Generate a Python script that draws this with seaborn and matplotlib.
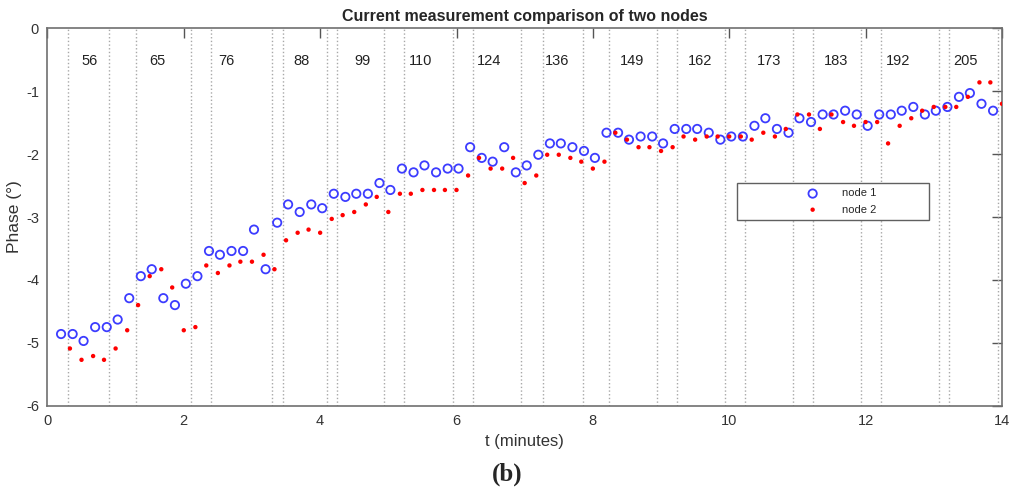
import matplotlib
matplotlib.use("Agg")
import matplotlib.pyplot as plt
import pandas as pd
import seaborn as sns
from matplotlib.patches import Rectangle

# sample times (minutes) and phase (degrees)
t_node1 = [0.20, 0.37, 0.53, 0.70, 0.87, 1.03, 1.20, 1.37, 1.53, 1.70, 1.87,
           2.03, 2.20, 2.37, 2.53, 2.70, 2.87, 3.03, 3.20, 3.37, 3.53, 3.70, 3.87,
           4.03, 4.20, 4.37, 4.53, 4.70, 4.87, 5.03, 5.20, 5.37, 5.53, 5.70, 5.87,
           6.03, 6.20, 6.37, 6.53, 6.70, 6.87, 7.03, 7.20, 7.37, 7.53, 7.70, 7.87,
           8.03, 8.20, 8.37, 8.53, 8.70, 8.87, 9.03, 9.20, 9.37, 9.53, 9.70, 9.87,
           10.03, 10.20, 10.37, 10.53, 10.70, 10.87, 11.03, 11.20, 11.37, 11.53,
           11.70, 11.87, 12.03, 12.20, 12.37, 12.53, 12.70, 12.87, 13.03, 13.20,
           13.37, 13.53, 13.70, 13.87]
phase_node1 = [-4.86, -4.86, -4.97, -4.75, -4.75, -4.63, -4.29, -3.94, -3.83, -4.29,
               -4.40, -4.06, -3.94, -3.54, -3.60, -3.54, -3.54, -3.20, -3.83, -3.09,
               -2.80, -2.92, -2.80, -2.86, -2.63, -2.68, -2.63, -2.63, -2.46, -2.57,
               -2.23, -2.29, -2.18, -2.29, -2.23, -2.23, -1.89, -2.06, -2.12, -1.89,
               -2.29, -2.18, -2.01, -1.83, -1.83, -1.89, -1.95, -2.06, -1.66, -1.66,
               -1.77, -1.72, -1.72, -1.83, -1.60, -1.60, -1.60, -1.66, -1.77, -1.72,
               -1.72, -1.55, -1.43, -1.60, -1.66, -1.43, -1.49, -1.37, -1.37, -1.31,
               -1.37, -1.55, -1.37, -1.37, -1.31, -1.25, -1.37, -1.31, -1.25, -1.09,
               -1.03, -1.20, -1.31]

t_node2 = [0.33, 0.50, 0.67, 0.83, 1.00, 1.17, 1.33, 1.50, 1.67, 1.83, 2.00,
           2.17, 2.33, 2.50, 2.67, 2.83, 3.00, 3.17, 3.33, 3.50, 3.67, 3.83, 4.00,
           4.17, 4.33, 4.50, 4.67, 4.83, 5.00, 5.17, 5.33, 5.50, 5.67, 5.83, 6.00,
           6.17, 6.33, 6.50, 6.67, 6.83, 7.00, 7.17, 7.33, 7.50, 7.67, 7.83, 8.00,
           8.17, 8.33, 8.50, 8.67, 8.83, 9.00, 9.17, 9.33, 9.50, 9.67, 9.83, 10.00,
           10.17, 10.33, 10.50, 10.67, 10.83, 11.00, 11.17, 11.33, 11.50, 11.67,
           11.83, 12.00, 12.17, 12.33, 12.50, 12.67, 12.83, 13.00, 13.17, 13.33,
           13.50, 13.67, 13.83, 14.00]
phase_node2 = [-5.09, -5.27, -5.21, -5.27, -5.09, -4.80, -4.40, -3.94, -3.83, -4.12,
               -4.80, -4.75, -3.77, -3.89, -3.77, -3.71, -3.71, -3.60, -3.83, -3.37,
               -3.25, -3.20, -3.25, -3.03, -2.97, -2.92, -2.80, -2.68, -2.92, -2.63,
               -2.63, -2.57, -2.57, -2.57, -2.57, -2.34, -2.06, -2.23, -2.23, -2.06,
               -2.46, -2.34, -2.01, -2.01, -2.06, -2.12, -2.23, -2.12, -1.66, -1.77,
               -1.89, -1.89, -1.95, -1.89, -1.72, -1.77, -1.72, -1.72, -1.72, -1.72,
               -1.77, -1.66, -1.72, -1.60, -1.37, -1.37, -1.60, -1.37, -1.49, -1.55,
               -1.49, -1.49, -1.83, -1.55, -1.43, -1.31, -1.25, -1.25, -1.25, -1.09,
               -0.86, -0.86, -1.20]

# measurement windows
window_edges = [0.30, 0.90, 1.30, 2.10, 2.40, 3.30, 3.45, 4.10, 4.24, 4.94, 5.23,
                5.95, 6.24, 6.95, 7.27, 7.86, 8.23, 8.94, 9.23, 9.94, 10.23, 10.94,
                11.23, 11.94, 12.22, 13.08, 13.23, 13.94]
window_labels = ["56", "65", "76", "88", "99", "110", "124", "136", "149", "162",
                 "173", "183", "192", "205"]
window_centers = [0.62, 1.62, 2.62, 3.72, 4.62, 5.48, 6.48, 7.48, 8.58, 9.57,
                  10.58, 11.57, 12.48, 13.47]

sns.set_style("white")
plt.rcParams["font.family"] = ["Liberation Sans", "DejaVu Sans"]
plt.rcParams["axes.unicode_minus"] = False

fig, ax = plt.subplots(figsize=(10.09, 4.93), dpi=100)
fig.subplots_adjust(left=0.047, right=0.993, top=0.9426, bottom=0.177)

for x in window_edges:
    ax.axvline(x, color="#a8a8a8", ls=":", lw=1.0, zorder=1)

df1 = pd.DataFrame({"t": t_node1, "phase": phase_node1})
df2 = pd.DataFrame({"t": t_node2, "phase": phase_node2})

sns.scatterplot(data=df1, x="t", y="phase", marker="o", s=36, facecolor="none",
                edgecolor="#3c3cff", linewidth=1.3, label="node 1", ax=ax, zorder=3)
sns.scatterplot(data=df2, x="t", y="phase", marker="o", s=10, color="red",
                edgecolor="none", linewidth=0, label="node 2", ax=ax, zorder=3)

for pos, lab in zip(window_centers, window_labels):
    ax.text(pos, -0.52, lab, ha="center", va="center", fontsize=10.5, color="#222222")

ax.set_xlim(0, 14)
ax.set_ylim(-6, 0)
ax.set_xticks(range(0, 15, 2))
ax.set_yticks(range(-6, 1))
ax.tick_params(direction="in", top=True, right=True, length=7, width=1,
               colors="#555555", labelcolor="#333333", labelsize=10.5, pad=6)
for sp in ax.spines.values():
    sp.set_color("#707070")
    sp.set_linewidth(1.2)

ax.set_title("Current measurement comparison of two nodes", fontsize=11.5,
             fontweight="bold", pad=5)
ax.set_xlabel("t (minutes)", fontsize=12, color="#333333", labelpad=4)
ax.set_ylabel("Phase (°)", fontsize=12.5, color="#333333")
ax.yaxis.set_label_coords(-0.027, 0.5)

# legend: MATLAB style wide box with centred entries
box = Rectangle((0.722, 0.492), 0.202, 0.099, transform=ax.transAxes,
                facecolor="white", edgecolor="#606060", lw=1.0, zorder=4)
ax.add_patch(box)
handles, labels = ax.get_legend_handles_labels()
leg = ax.legend(handles, labels, loc="center", bbox_to_anchor=(0.829, 0.541),
                frameon=False, fontsize=8, handletextpad=1.6, labelspacing=0.55,
                borderpad=0.2)
leg.set_zorder(5)

fig.text(0.5025, 0.037, "(b)", ha="center", va="center", fontsize=18,
         fontweight="bold", family="Liberation Serif")

fig.savefig("out.png", dpi=100)
